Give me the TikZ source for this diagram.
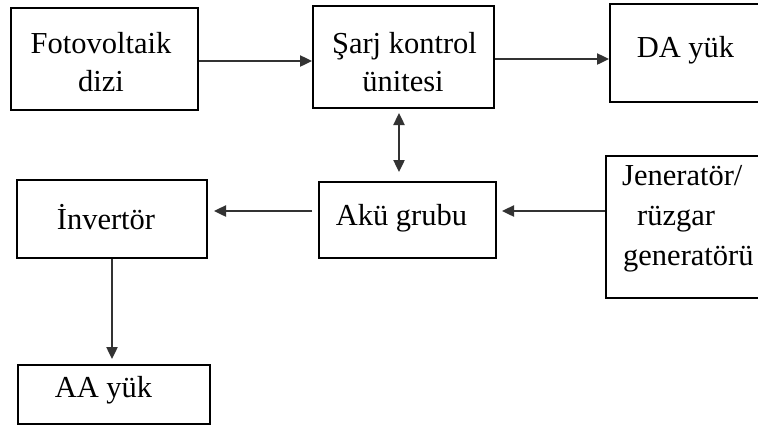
\documentclass[tikz,border=0pt]{standalone}
\usepackage{fontspec}
\setmainfont{Liberation Serif}
\usetikzlibrary{arrows.meta}
\begin{document}
\begin{tikzpicture}[x=1pt,y=-1pt,
  box/.style={draw=black,line width=2pt,inner sep=0pt,fill=none},
  lbl/.style={inner sep=0pt,anchor=base,font=\fontsize{30.5}{38}\selectfont},
  lbll/.style={inner sep=0pt,anchor=base west,font=\fontsize{30.5}{38}\selectfont},
  arr/.style={draw=black!80,line width=2.4pt,-{Triangle[length=12pt,width=11pt]}},
  darr/.style={draw=black!80,line width=2.4pt,{Triangle[length=12pt,width=11pt]}-{Triangle[length=12pt,width=11pt]}}]
\useasboundingbox (0,0) rectangle (758,426);
\clip (0,0) rectangle (758,426);
\fill[white] (0,0) rectangle (758,426);
% boxes
\node[box,minimum width=187pt,minimum height=102pt] (pv) at (104.5,59) {};
\node[box,minimum width=181pt,minimum height=102pt] (sc) at (403.5,57) {};
\node[box,minimum width=152pt,minimum height=98pt] (da) at (686,53) {};
\node[box,minimum width=190pt,minimum height=78pt] (inv) at (112,219) {};
\node[box,minimum width=177pt,minimum height=76pt] (ak) at (407.5,220) {};
\node[box,minimum width=156pt,minimum height=142pt] (jen) at (684,227) {};
\node[box,minimum width=192pt,minimum height=59pt] (aa) at (114,394.5) {};
% texts
\node[lbl] (t1a) at (101,53) {Fotovoltaik};
\node[lbl] (t1b) at (101,91) {dizi};
\node[lbl] (t2a) at (404.5,53) {Şarj kontrol};
\node[lbl] (t2b) at (403,91) {ünitesi};
\node[lbl] (t3) at (685.5,57) {DA yük};
\node[lbl] (t4) at (106,229) {İnvertör};
\node[lbl] (t5) at (401.5,225) {Akü grubu};
\node[lbll] (t6a) at (622,185) {Jeneratör/};
\node[lbll] (t6b) at (637,225) {rüzgar};
\node[lbll] (t6c) at (623,265) {generatörü};
\node[lbl] (t7) at (103.5,397) {AA yük};
% connectors
\draw[arr] ([yshift=-2pt]pv.east) -- ([yshift=-2pt]pv.east -| sc.west);
\draw[arr] ([yshift=-2pt]sc.east) -- ([yshift=-2pt]sc.east -| da.west);
\draw[darr,shorten <=4pt,shorten >=9pt] ([xshift=-4.5pt]sc.south) -- ([xshift=-4.5pt]sc.south |- ak.north);
\draw[arr,shorten <=6pt,shorten >=6pt] ([yshift=9pt]ak.west) -- ([yshift=9pt]ak.west -| inv.east);
\draw[arr,shorten >=5pt] ([yshift=16pt]jen.west) -- ([yshift=16pt]jen.west -| ak.east);
\draw[arr,shorten >=5pt] (inv.south) -- (inv.south |- aa.north);
\end{tikzpicture}
\end{document}
